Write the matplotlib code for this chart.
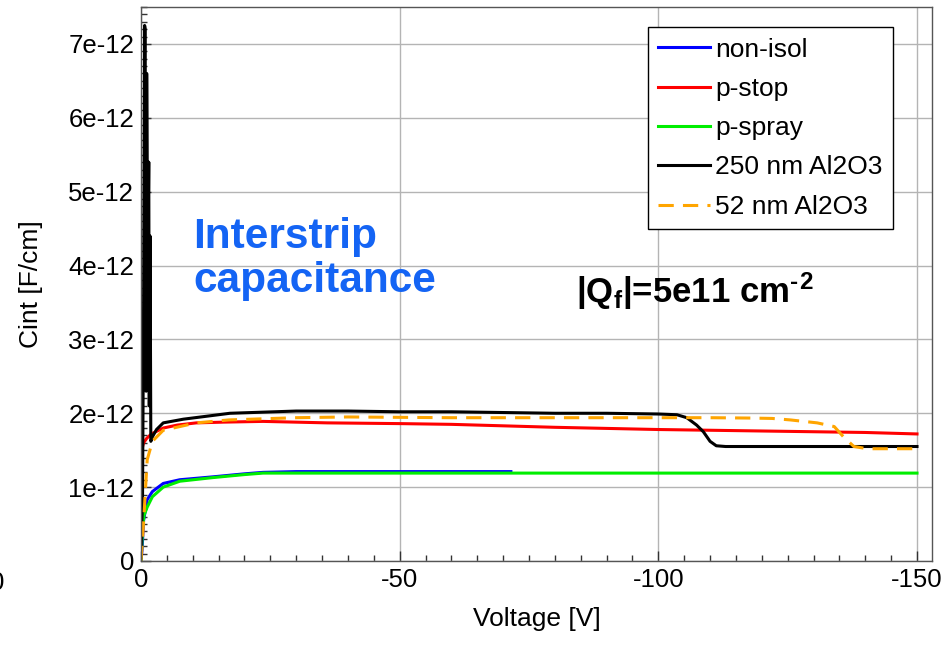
import matplotlib
matplotlib.use("Agg")
import matplotlib.pyplot as plt
from matplotlib.ticker import MultipleLocator, FuncFormatter
from matplotlib.lines import Line2D

plt.rcParams['font.family'] = ['Liberation Sans', 'DejaVu Sans']
plt.rcParams['mathtext.fontset'] = 'custom'
plt.rcParams['mathtext.rm'] = 'Liberation Sans:bold'
plt.rcParams['mathtext.bf'] = 'Liberation Sans:bold'
plt.rcParams['mathtext.it'] = 'Liberation Sans:bold'

# ---- data (Voltage in V, Cint in units of 1e-12 F/cm) ----
v_nonisol = [0, -0.2, -0.5, -1.2, -2.2, -4.3, -7.5, -14, -20, -23.6, -30, -40, -50, -60, -71.5]
c_nonisol = [0.0, 0.15, 0.55, 0.83, 0.94, 1.05, 1.10, 1.14, 1.18, 1.20, 1.21, 1.21, 1.21, 1.21, 1.21]

v_pstop = [0, -0.2, -0.5, -1.1, -2, -4.3, -7, -10.7, -16, -23.6, -36, -50, -60, -80, -100, -120, -140, -150]
c_pstop = [1.41, 1.52, 1.60, 1.66, 1.72, 1.80, 1.84, 1.87, 1.88, 1.89, 1.87, 1.86, 1.85, 1.81, 1.78, 1.76, 1.74, 1.72]

v_pspray = [0, -0.15, -0.3, -0.6, -1.2, -2.2, -4.3, -7.5, -14, -20, -23.6, -30, -50, -80, -100, -120, -150]
c_pspray = [0.0, 0.2, 0.46, 0.62, 0.73, 0.87, 1.00, 1.08, 1.13, 1.17, 1.19, 1.19, 1.19, 1.19, 1.19, 1.19, 1.19]

v_al250 = [0, -0.3, -0.5, -0.7, -0.8, -1.0, -1.1, -1.3, -1.5, -1.6, -1.75, -1.9, -2.2, -3, -4.3, -8.2,
           -17.2, -30, -40, -50, -60, -70, -80, -90, -100, -103.6, -105.5, -107.4, -108.7, -110,
           -111.2, -113, -130, -150]
c_al250 = [0.05, 0.9, 3.5, 7.25, 7.2, 2.3, 6.6, 3.9, 5.4, 2.1, 4.4, 1.62, 1.68, 1.78, 1.87, 1.92,
           2.00, 2.03, 2.03, 2.02, 2.02, 2.01, 2.00, 2.00, 1.99, 1.98, 1.94, 1.84, 1.75, 1.62,
           1.56, 1.55, 1.55, 1.55]

v_al52 = [0, -0.3, -0.6, -1.2, -2.2, -4.3, -10.7, -17, -30, -40, -60, -80, -100, -110, -118,
          -122, -125.5, -130.7, -134, -135.8, -137.8, -140.4, -150]
c_al52 = [0.0, 0.3, 0.65, 1.37, 1.62, 1.77, 1.87, 1.91, 1.94, 1.95, 1.94, 1.94, 1.94, 1.94, 1.935,
          1.93, 1.91, 1.87, 1.82, 1.68, 1.55, 1.52, 1.52]

labels = ['non-isol', 'p-stop', 'p-spray', '250 nm Al2O3', '52 nm Al2O3']
colors = ['#0000ff', '#ff0000', '#00ee00', '#000000', '#ffa500']

scale = 1e-12

fig = plt.figure(figsize=(9.47, 6.48), dpi=100)
ax = fig.add_axes([141/947, 1 - 561/648, (932 - 141)/947, (561 - 7)/648])

ax.plot(v_nonisol, [c * scale for c in c_nonisol], color=colors[0], lw=2.2)
ax.plot(v_pspray, [c * scale for c in c_pspray], color=colors[2], lw=2.2)
ax.plot(v_pstop, [c * scale for c in c_pstop], color=colors[1], lw=2.2)
ax.plot(v_al250, [c * scale for c in c_al250], color=colors[3], lw=2.2)
ax.plot(v_al52, [c * scale for c in c_al52], color=colors[4], lw=2.2, ls=(0, (5, 3)))

ax.set_xlim(0, -152.9)
ax.set_ylim(0, 7.5e-12)

ax.xaxis.set_major_locator(MultipleLocator(50))
ax.xaxis.set_minor_locator(MultipleLocator(5))
ax.yaxis.set_major_locator(MultipleLocator(1e-12))
ax.yaxis.set_minor_locator(MultipleLocator(1e-13))

def yfmt(y, pos):
    if abs(y) < 1e-20:
        return '0'
    return '%de-12' % round(y / 1e-12)

def xfmt(x, pos):
    return '%d' % round(x) if round(x) != 0 else '0'

ax.yaxis.set_major_formatter(FuncFormatter(yfmt))
ax.xaxis.set_major_formatter(FuncFormatter(xfmt))

ax.grid(True, which='major', color='#b4b4b4', lw=1)
ax.set_axisbelow(True)
ax.tick_params(which='both', direction='in', color='#333333', labelsize=18.5)
ax.tick_params(which='major', length=7, width=1, pad=5)
ax.tick_params(which='minor', length=4, width=1)
ax.tick_params(axis='x', which='both', top=False)
ax.tick_params(axis='y', which='both', right=False)
for s in ax.spines.values():
    s.set_color('#555555')
    s.set_linewidth(1)

ax.set_xlabel('Voltage [V]', fontsize=19, labelpad=11)
ax.set_ylabel('Cint [F/cm]', fontsize=19, labelpad=18)

handles = [Line2D([], [], color=colors[i], lw=2.2) for i in range(4)]
handles.append(Line2D([], [], color=colors[4], lw=2.2, ls=(0, (5, 3))))
leg = ax.legend(handles, labels, loc='upper right', bbox_to_anchor=(893/947, 1 - 27/648),
                bbox_transform=fig.transFigure, fontsize=19, frameon=True, fancybox=False,
                edgecolor='black', framealpha=1, handlelength=1.95, handletextpad=0.2,
                labelspacing=0.58, borderpad=0.4, borderaxespad=0)
leg.get_frame().set_linewidth(1)

fig.text(193/947, 1 - 259/648, 'Interstrip\ncapacitance', fontsize=30.5, fontweight='bold',
         color='#1464f4', ha='left', va='center', linespacing=1.1)
fig.text(576/947, 1 - 291/648, '|Q$_\\mathregular{f}$|=5e11 cm$^\\mathregular{\u2010}$$^\\mathregular{2}$',
         fontsize=25, fontweight='bold', color='black', ha='left', va='center')

fig.text(-3/947, 1 - 583/648, '0', fontsize=18.5, ha='center', va='center')

fig.savefig('out.png', dpi=100)
